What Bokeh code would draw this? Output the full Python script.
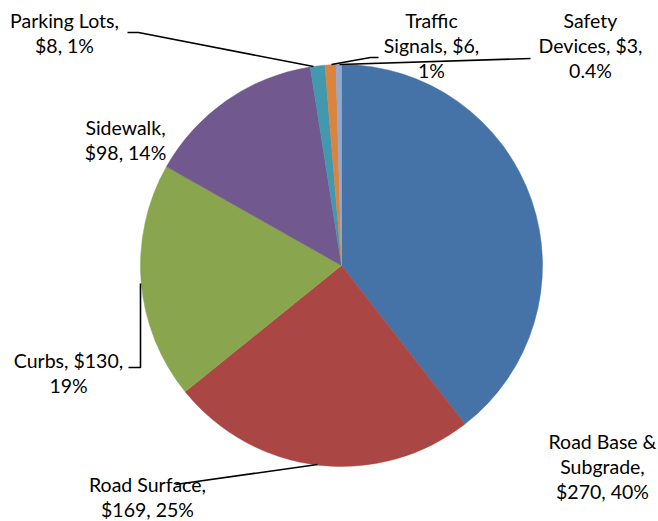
import math
from bokeh.plotting import figure
from bokeh.models import Range1d, ColumnDataSource
from bokeh.core.properties import value
from bokeh.embed import file_html
from bokeh.resources import INLINE

# ---- data ----
categories = ["Road Base & Subgrade", "Road Surface", "Curbs", "Sidewalk",
              "Parking Lots", "Traffic Signals", "Safety Devices"]
amounts = [270, 169, 130, 98, 8, 6, 3]
percent_labels = ["40%", "25%", "19%", "14%", "1%", "1%", "0.4%"]
colors = ["#4572A7", "#AA4643", "#89A54E", "#71588F", "#4198AF", "#DB843D", "#93A9CF"]

# label text, wrapped as in the reference
label_lines = [
    ["Road Base &", "Subgrade,", "$270, 40%"],
    ["Road Surface,", "$169, 25%"],
    ["Curbs, $130,", "19%"],
    ["Sidewalk,", "$98, 14%"],
    ["Parking Lots,", "$8, 1%"],
    ["Traffic", "Signals, $6,", "1%"],
    ["Safety", "Devices, $3,", "0.4%"],
]

# ---- layout (picture pixel coordinates; y measured downwards) ----
W, H = 658, 521
CX, CY, R = 341, 265, 201
label_centers = [(602, 441), (147, 484), (68, 360), (125, 127),
                 (64, 20), (431, 20), (590, 20)]
LINE_STEP = 25
leaders = [
    None,
    [(317, 464), (175, 484)],
    [(140, 283), (140, 367), (128, 367)],
    None,
    [(313, 66), (138, 32), (127, 32)],
    [(331, 64), (370, 57), (378, 57)],
    [(339, 64), (530, 58)],
]

def fy(py):
    return H - py

p = figure(width=W, height=H, output_backend="svg", toolbar_location=None,
           x_range=Range1d(0, W), y_range=Range1d(0, H),
           x_axis_type=None, y_axis_type=None, min_border=0)
p.outline_line_color = None
p.grid.visible = False
p.background_fill_color = "white"
p.border_fill_color = "white"

total = sum(amounts)
starts, ends = [], []
cum = 0.0
for a in amounts:
    s = math.pi / 2 - 2 * math.pi * (cum + a) / total
    e = math.pi / 2 - 2 * math.pi * cum / total
    starts.append(s)
    ends.append(e)
    cum += a

src = ColumnDataSource(dict(start=starts, end=ends, color=colors, cat=categories,
                            amt=amounts))
p.wedge(x=CX, y=fy(CY), radius=R, start_angle="start", end_angle="end",
        fill_color="color", line_color="color", line_width=0.5, source=src)

for pts in leaders:
    if pts:
        p.line([q[0] for q in pts], [fy(q[1]) for q in pts],
               line_color="black", line_width=1.6)

tx, ty, tt = [], [], []
for lines, (lx, ly) in zip(label_lines, label_centers):
    for i, t in enumerate(lines):
        tx.append(lx)
        ty.append(fy(ly + i * LINE_STEP))
        tt.append(t)
p.text(x=tx, y=ty, text=tt, text_align="center", text_baseline="middle",
       text_font=value("Lato"), text_font_size="19.5px", text_color="black")

open("out.html", "w").write(file_html(p, INLINE))
